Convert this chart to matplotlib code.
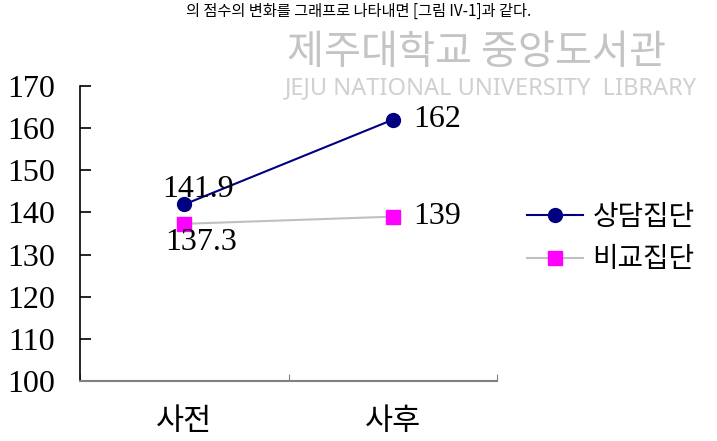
import matplotlib.pyplot as plt

plt.rcParams['font.family'] = ['Liberation Serif', 'Noto Sans CJK KR']

categories = ['사전', '사후']
counsel = [141.9, 162]
compare = [137.3, 139]
counsel_name = '상담집단'
compare_name = '비교집단'
yticks = [100, 110, 120, 130, 140, 150, 160, 170]

fig = plt.figure(figsize=(7.17, 4.41), dpi=100)
ax = fig.add_axes([0.1116, 0.136, 0.5816, 0.669])

xpos = [0.5, 1.5]
l1, = ax.plot(xpos, counsel, color='#000080', lw=1.5, marker='o', ms=10,
              markerfacecolor='#000080', markeredgecolor='#000080', label=counsel_name)
l2, = ax.plot(xpos, compare, color='#c0c0c0', lw=1.5, marker='s', ms=10,
              markerfacecolor='#ff00ff', markeredgecolor='#ff00ff', label=compare_name)

# value labels
ax.annotate(f'{counsel[0]:g}', (xpos[0], counsel[0]), xytext=(10, 0), textcoords='offset points',
            ha='center', va='bottom', fontsize=23)
ax.annotate(f'{compare[0]:g}', (xpos[0], compare[0]), xytext=(12, -3), textcoords='offset points',
            ha='center', va='top', fontsize=23)
ax.annotate(f'{counsel[1]:g}', (xpos[1], counsel[1]), xytext=(15, 0), textcoords='offset points',
            ha='left', va='center', fontsize=23)
ax.annotate(f'{compare[1]:g}', (xpos[1], compare[1]), xytext=(15, 0), textcoords='offset points',
            ha='left', va='center', fontsize=23)

ax.set_xlim(0, 2)
ax.set_ylim(100, 170)
ax.set_yticks(yticks)
ax.set_yticklabels([str(v) for v in yticks], fontsize=23)
ax.set_xticks([0, 1, 2])
ax.set_xticklabels([])
ax.set_xticks(xpos, minor=True)
ax.set_xticklabels(categories, minor=True, fontsize=22, family='Noto Sans CJK KR')
ax.tick_params(axis='x', which='minor', length=0, pad=18)
ax.tick_params(axis='x', which='major', direction='in', length=5, color='#808080')
ax.tick_params(axis='y', direction='in', length=8, width=1.2, pad=18)

for s in ['top', 'right']:
    ax.spines[s].set_visible(False)
ax.spines['bottom'].set_color('#808080')
ax.spines['bottom'].set_linewidth(1.5)
ax.spines['left'].set_linewidth(1.2)

leg = fig.legend(handles=[l1, l2], loc='center left', bbox_to_anchor=(0.735, 0.46),
                 frameon=False, borderpad=0, borderaxespad=0, handlelength=2.0,
                 handletextpad=0.35, labelspacing=0.45,
                 prop={'family': 'Noto Sans CJK KR', 'size': 20})

# library watermark
fig.text(0.665, 0.882, '제주대학교 중앙도서관', color='#c4c4c4', fontsize=29,
         family='Noto Sans CJK KR', ha='center', va='center')
fig.text(0.685, 0.8, 'JEJU NATIONAL UNIVERSITY  LIBRARY', color='#d0d0d0', fontsize=17,
         family='Noto Sans', ha='center', va='center')

# running text line above the figure
fig.text(0.5, 0.975, '의 점수의 변화를 그래프로 나타내면 [그림 IV-1]과 같다.', fontsize=11,
         family='Noto Sans CJK KR', ha='center', va='center')

fig.savefig('out.png', dpi=100)
